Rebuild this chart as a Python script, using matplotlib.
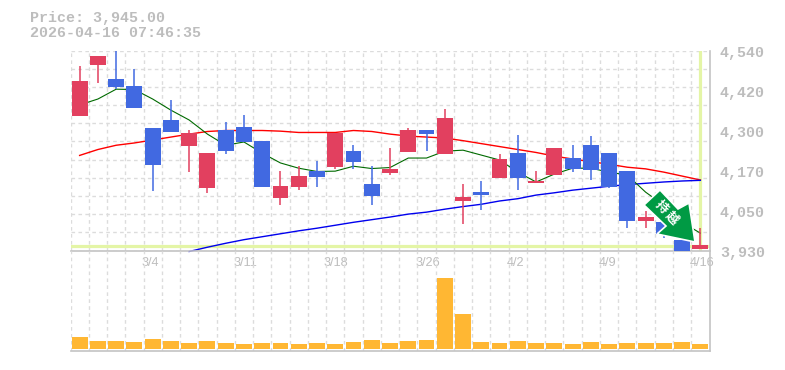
import matplotlib
matplotlib.use("Agg")
import matplotlib.pyplot as plt
from matplotlib.patches import Polygon

W, H = 785, 370
GRID = "#dcdcdc"; AXC = "#c4c4c4"; TXT = "#bdbdbd"
UP = "#e2405f"; DOWN = "#4169e1"; VOLC = "#ffb733"; HL = "#e4f5a6"

tick_dates = ["3/4", "3/11", "3/18", "3/26", "4/2", "4/9", "4/16"]
tick_idx = [4, 9, 14, 19, 24, 29, 34]
price_labels = ["4,540", "4,420", "4,300", "4,170", "4,050", "3,930"]

def p(y):
    return round(4540 - (y - 50.5) * 3.053, 0)

# values, as pixel rows converted to yen
body_top = [p(v) for v in [81,56,79,86,128,120,133,153,130,127,141,186,176,171,133,151,184,169,130,130,118,197,192,159,153,181,148,158,145,153,171,217,222,240,245]]
body_bot = [p(v) for v in [116,65,87,108,165,132,146,188,151,142,187,198,187,177,167,162,196,173,152,134,154,201,195,178,178,183,175,169,170,187,221,221,234,256,249]]
high = [p(v) for v in [66,56,50,69,128,100,130,153,122,115,141,171,166,161,133,145,166,148,128,130,109,184,181,154,135,171,148,145,136,153,171,211,222,240,228]]
low = [p(v) for v in [116,83,89,108,191,132,172,193,154,142,187,205,190,187,169,169,205,175,152,151,154,224,210,178,190,183,175,172,180,188,228,228,238,256,249]]
is_up = [1,1,0,0,0,0,1,1,0,0,0,1,1,0,1,0,0,1,1,0,1,1,0,1,0,1,1,0,0,0,0,1,0,0,1]
ma5 = [p(v) for v in [105,99,89.3,89.5,99,110,120,134,145,142,153,163,168,171.5,171,166,168.5,167.5,158,158,151,150,155,160,172,182,174,168,168,172,175,192,205,222,233]]
ma25 = [p(v) for v in [155.3,149.5,145,143,140,137,134,131.5,130.5,130.5,130.5,131,132.5,132.5,132.5,130.5,131.5,134,136,137,138,140.5,143.5,146.5,149.5,152.5,156,159,161.5,164,167,168.7,172,176,180]]
ma75 = [p(v) for v in [251.3,247,243,239.5,236.5,233.5,230.5,228,225,222,219.5,217,214,212,209,206.5,204,201,198.5,195,192.5,190,188,186,184.5,183,182,181,180.3]]
volume = [120,80,80,70,100,80,60,80,60,50,60,60,50,60,50,70,90,60,80,90,710,350,70,60,80,60,60,50,70,50,60,60,60,70,50]
last_price = 3945

plt.rcParams["font.family"] = ["Liberation Mono", "DejaVu Sans Mono"]
fig = plt.figure(figsize=(W / 100, H / 100), dpi=100)

def rect(l, t, r, b):
    return [l / W, 1 - b / H, (r - l) / W, (b - t) / H]

L, R = 70.5, 709.5
ax = fig.add_axes(rect(L, 50.5, R, 250.5))
vx = fig.add_axes(rect(L, 250.5, R, 350.5))
n = len(volume)
xs = list(range(n))
for a in (ax, vx):
    a.set_xlim(-0.5, n - 0.5)
    a.set_facecolor("none")
    for s in ("left", "top"):
        a.spines[s].set_visible(False)
    for s in ("right", "bottom"):
        a.spines[s].set_color(AXC)
        a.spines[s].set_linewidth(1.2)
    a.set_xticks([i - 0.5 for i in range(n)])
    a.tick_params(length=0, labelbottom=False, labelleft=False)
    a.grid(True, axis="x", color=GRID, lw=1, linestyle=(0, (2.6, 2.4)))
    a.set_axisbelow(True)

ymin, ymax = 3930, 4540
ax.set_ylim(ymin, ymax)
ax.set_yticks([ymin + (ymax - ymin) * i / 11 for i in range(12)])
ax.grid(True, axis="y", color=GRID, lw=1, linestyle=(0, (2.6, 2.4)))
vx.set_yticks([])
vx.set_ylim(-20, 980)

ax.axhline(last_price, color=HL, lw=2.3, zorder=1.5)
ax.axvline(xs[-1], color=HL, lw=2.3, zorder=1.5)

ax.plot(xs, ma25, color="#ff0000", lw=1.0, zorder=2)
ax.plot(xs[6:], ma75, color="#0000ee", lw=1.0, zorder=2, clip_on=False)
ax.plot(xs, ma5, color="#006a00", lw=0.8, zorder=2)

for i in xs:
    c = UP if is_up[i] else DOWN
    ax.plot([i, i], [low[i], high[i]], color=c, lw=1.1, zorder=3, solid_capstyle="butt")
    ax.bar(i, body_top[i] - body_bot[i], bottom=body_bot[i], width=0.87, color=c, zorder=4)

vx.bar(xs, volume, width=0.87, color=VOLC, zorder=3)

# signal sticker, in pixel coordinates
arrow = [(660, 190), (678, 209), (689, 203), (695, 242), (657, 234), (666, 226), (644, 205)]
fig.add_artist(Polygon([(x / W, 1 - y / H) for x, y in arrow], closed=True, transform=fig.transFigure,
                       fc="#009a44", ec="white", lw=1.2, joinstyle="miter", zorder=10))
for (tx, ty, s) in [(661.5, 207.5, "持"), (672, 218, "越")]:
    fig.text(tx / W, 1 - ty / H, s, color="white", rotation=-45, ha="center", va="center",
             fontsize=9, fontweight="bold", family="Noto Sans CJK JP", zorder=11)

# text
fig.text(30 / W, 1 - 18 / H, f"Price: {last_price:,.2f}", color=TXT, fontsize=10.8, fontweight="bold", va="center", ha="left")
fig.text(30 / W, 1 - 33 / H, "2026-04-16 07:46:35", color=TXT, fontsize=10.8, fontweight="bold", va="center", ha="left")
for i, s in enumerate(price_labels):
    fig.text(720 / W, 1 - (53 + 40 * i) / H, s, color=TXT, fontsize=10.8, fontweight="bold", va="center", ha="left")
for i, s, dx in zip(tick_idx, tick_dates, [-2.7, 1, 1, 1.5, -1.8, -2, 2]):
    ax.annotate(s, (i, 0), xycoords=("data", "axes fraction"), xytext=(dx * 0.72, -12 * 0.72),
                textcoords="offset points", color=TXT, fontsize=9.2, family="Liberation Sans",
                ha="center", va="center", annotation_clip=False, zorder=6)

fig.savefig("out.png", dpi=100, facecolor="white")
